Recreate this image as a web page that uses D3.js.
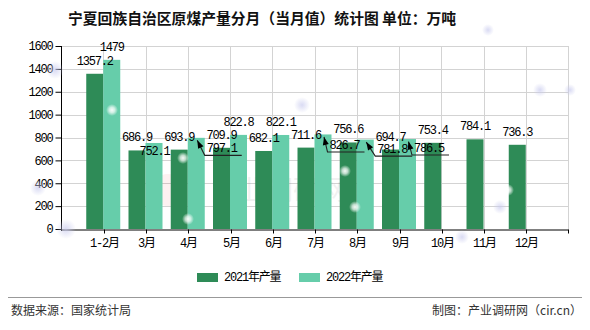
<!DOCTYPE html>
<html>
<head>
<meta charset="utf-8">
<script src="https://cdn.jsdelivr.net/npm/d3@7/dist/d3.min.js"></script>
<style>
  html, body { margin: 0; padding: 0; background: #fff; }
  svg { display: block; }
  .num { font-family: "Liberation Mono", "Noto Sans CJK SC", monospace; font-size: 12px; letter-spacing: -1.2px; }
  .cjk { font-family: "Noto Sans CJK SC", sans-serif; }
</style>
</head>
<body>
<svg id="chart" width="590" height="330"></svg>
<script>
// Monthly raw coal output of Ningxia (10k tonnes)
const categories = ["1-2月", "3月", "4月", "5月", "6月", "7月", "8月", "9月", "10月", "11月", "12月"];
const output2021 = [1357.2, 686.9, 693.9, 709.9, 682.1, 711.6, 756.6, 694.7, 753.4, 784.1, 736.3];
const output2022 = [1479, 752.1, 797.1, 822.8, 822.1, 826.7, 781.8, 786.5, null, null, null];
const seriesNames = ["2021年产量", "2022年产量"];
const yTicks = [0, 200, 400, 600, 800, 1000, 1200, 1400, 1600];

const colors = ["#2e8b57", "#66cdaa"];

const svg = d3.select("#chart");
const plotL = 61, plotR = 568, plotT = 46, plotB = 229;

const x = d3.scalePoint().domain(categories).range([plotL, plotR]).padding(1);
const y = d3.scaleLinear().domain([0, 1600]).range([plotB, plotT]);
const barW = 17;

// soft glow defs
const defs = svg.append("defs");
const gw = defs.append("radialGradient").attr("id", "glowW");
gw.append("stop").attr("offset", "0%").attr("stop-color", "#fff").attr("stop-opacity", 0.95);
gw.append("stop").attr("offset", "45%").attr("stop-color", "#fff").attr("stop-opacity", 0.7);
gw.append("stop").attr("offset", "100%").attr("stop-color", "#fff").attr("stop-opacity", 0);
const gb = defs.append("radialGradient").attr("id", "glowB");
gb.append("stop").attr("offset", "0%").attr("stop-color", "#c9cbee").attr("stop-opacity", 0.7);
gb.append("stop").attr("offset", "100%").attr("stop-color", "#c9cbee").attr("stop-opacity", 0);

// title
svg.append("text").attr("class", "cjk")
  .attr("x", 68).attr("y", 24)
  .attr("font-size", 14.8).attr("font-weight", "bold").attr("fill", "#111")
  .text("宁夏回族自治区原煤产量分月（当月值）统计图 单位：万吨");

// grid
const grid = svg.append("g").attr("stroke", "#d3d3d3").attr("stroke-width", 1);
yTicks.filter(d => d > 0).forEach(t => {
  grid.append("line").attr("x1", plotL).attr("x2", plotR)
    .attr("y1", Math.round(y(t)) + 0.5).attr("y2", Math.round(y(t)) + 0.5);
});
categories.map(c => x(c)).concat([plotR]).forEach(px => {
  grid.append("line").attr("y1", plotT).attr("y2", plotB)
    .attr("x1", Math.round(px) + 0.5).attr("x2", Math.round(px) + 0.5);
});

// faint watermark
const wm = svg.append("g").attr("opacity", 0.05);
wm.append("circle").attr("cx", 168).attr("cy", 190).attr("r", 16).attr("fill", "#d00");
wm.append("text").attr("class", "cjk").attr("x", 212).attr("y", 200)
  .attr("font-size", 27).attr("fill", "#000").text("产业调研网");

// bars
const bars = svg.append("g");
const series = [output2021, output2022];
series.forEach((vals, s) => {
  bars.selectAll(null)
    .data(categories.map((c, i) => ({ c, v: vals[i] })).filter(d => d.v != null))
    .enter().append("rect")
    .attr("x", d => x(d.c) - barW + s * barW)
    .attr("width", barW)
    .attr("y", d => y(d.v))
    .attr("height", d => plotB - y(d.v))
    .attr("fill", colors[s]);
});

// axes
const yAxis = svg.append("g").attr("transform", `translate(${plotL + 0.5},0)`)
  .call(d3.axisLeft(y).tickValues(yTicks).tickFormat(d3.format("d"))
    .tickSize(6).tickPadding(3).tickSizeOuter(0));
yAxis.selectAll("text").attr("class", "num").attr("fill", "#000");
yAxis.selectAll("line, path").attr("stroke", "#000");
yAxis.select(".domain").attr("d", `M0,${plotT}V${plotB + 2}`);

const xAxis = svg.append("g").attr("transform", `translate(0,${plotB + 0.5})`)
  .call(d3.axisBottom(x).tickSize(4).tickPadding(5).tickSizeOuter(0));
xAxis.selectAll("text").attr("class", "num").attr("fill", "#000");
xAxis.selectAll("line, path").attr("stroke", "#000");
xAxis.selectAll(".tick").attr("transform", function () {
  const t = d3.select(this).attr("transform");
  const m = /translate\(([-\d.]+)/.exec(t);
  return `translate(${Math.round(+m[1]) + 0.5},0)`;
});
xAxis.append("line").attr("x1", plotR + 0.5).attr("x2", plotR + 0.5).attr("y1", 0).attr("y2", 4).attr("stroke", "#000");

// value labels; a few 2022 labels are pushed aside to avoid overlaps
const shifted = {
  "1|3月": { dx: 0.5, dy: 21, leader: false },
  "1|4月": { dx: 25.5, dy: 23.5, leader: true },
  "1|7月": { dx: 21.5, dy: 23.5, leader: true },
  "1|8月": { dx: 27, dy: 22.5, leader: true },
  "1|9月": { dx: 21.5, dy: 22, leader: true }
};
const labels = svg.append("g");
const leaders = svg.append("g");
series.forEach((vals, s) => {
  categories.forEach((c, i) => {
    const v = vals[i];
    if (v == null) return;
    const cx = x(c) - barW / 2 + s * barW;
    const topY = y(v);
    let lx = cx, ly = topY - 9;
    const sh = shifted[s + "|" + c];
    if (sh) { lx += sh.dx; ly += sh.dy; }
    const txt = labels.append("text").attr("class", "num")
      .attr("x", lx).attr("y", ly).attr("text-anchor", "middle").attr("fill", "#000")
      .text(String(v));
    if (sh && sh.leader) {
      const bb = txt.node().getBBox();
      const bx = bb.x - 2, by = ly + 3, ex = bb.x + bb.width + 4;
      const tx = cx + 1, ty = topY + 2.5;
      leaders.append("path")
        .attr("d", `M${tx},${ty}L${bx},${by}H${ex}`)
        .attr("fill", "none").attr("stroke", "#222").attr("stroke-width", 1.1);
      const dxv = tx - bx, dyv = ty - by, len = Math.hypot(dxv, dyv);
      const ux = dxv / len, uy = dyv / len;
      const hl = 8, hw = 3;
      const baseX = tx - ux * hl, baseY = ty - uy * hl;
      leaders.append("path")
        .attr("d", `M${tx},${ty}L${baseX - uy * hw},${baseY + ux * hw}L${baseX + uy * hw},${baseY - ux * hw}Z`)
        .attr("fill", "#000");
    }
  });
});

// decorative glints
const glints = svg.append("g");
[[112, 110, 6], [183, 158, 6], [188, 219, 6], [345, 171, 6], [355, 207, 6], [508, 190, 6]].forEach(([gx, gy, r]) => {
  glints.append("circle").attr("cx", gx).attr("cy", gy).attr("r", r).attr("fill", "url(#glowW)");
});
[[55, 70, 9], [38, 188, 8], [66, 229, 10], [302, 105, 8], [540, 90, 7], [500, 207, 7], [462, 237, 7], [488, 30, 6], [570, 90, 6]].forEach(([gx, gy, r]) => {
  glints.append("circle").attr("cx", gx).attr("cy", gy).attr("r", r).attr("fill", "url(#glowB)");
});

// legend
const lg = svg.append("g");
const legendX = [197, 299];
seriesNames.forEach((n, s) => {
  lg.append("rect").attr("x", legendX[s]).attr("y", 273).attr("width", 21).attr("height", 9).attr("fill", colors[s]);
  lg.append("text").attr("class", "num").attr("x", legendX[s] + 27).attr("y", 277.5)
    .attr("dominant-baseline", "central").attr("fill", "#000").attr("letter-spacing", "-0.6px").text(n);
});

// footer
svg.append("line").attr("x1", 8).attr("x2", 582).attr("y1", 297.5).attr("y2", 297.5)
  .attr("stroke", "#999").attr("stroke-width", 1);
svg.append("text").attr("class", "cjk").attr("x", 11).attr("y", 315)
  .attr("font-size", 12).attr("fill", "#333").text("数据来源：国家统计局");
svg.append("text").attr("class", "cjk").attr("x", 582).attr("y", 315).attr("text-anchor", "end")
  .attr("font-size", 12).attr("fill", "#333").text("制图：产业调研网（cir.cn）");
</script>
</body>
</html>
